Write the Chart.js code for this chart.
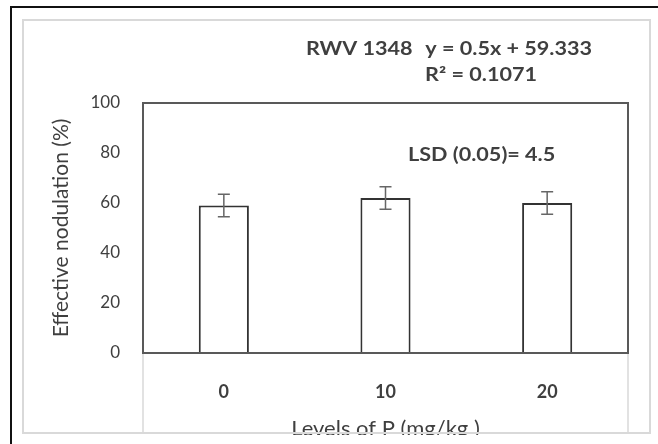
<!DOCTYPE html>
<html>
<head>
<meta charset="utf-8">
<script src="https://cdn.jsdelivr.net/npm/chart.js@4.4.1/dist/chart.umd.min.js"></script>
<style>
  html, body { margin: 0; padding: 0; background: #fff; }
  canvas { display: block; }
</style>
</head>
<body>
<canvas id="myChart" width="658" height="444"></canvas>
<script>
// data
const levels = ['0', '10', '20'];
const nodulation = [59, 62, 60];
const errors = [4.5, 4.5, 4.5];
const yTicks = [0, 20, 40, 60, 80, 100];

const varietyText = 'RWV 1348';
const equationText = 'y = 0.5x + 59.333';
const r2Text = 'R\u00b2 = 0.1071';
const lsdText = 'LSD (0.05)= 4.5';

const textColor = '#3f3f3f';
const fontFamily = 'Lato, "Open Sans", sans-serif';

// frames around the picture and the plot box
const framePlugin = {
    id: 'frames',
    beforeDraw(chart) {
        const ctx = chart.ctx;
        ctx.save();
        ctx.fillStyle = '#fff';
        ctx.fillRect(0, 0, chart.width, chart.height);
        ctx.restore();
    },
    afterDraw(chart) {
        const ctx = chart.ctx;
        const area = chart.chartArea;
        ctx.save();
        // clip the axis title under the bottom edge
        ctx.fillStyle = '#fff';
        ctx.fillRect(13, 435, chart.width, 10);

        // light grey chart frame
        ctx.strokeStyle = '#d9d9d9';
        ctx.lineWidth = 2;
        ctx.strokeRect(23, 20, 627, 413);
        ctx.lineWidth = 1.5;
        ctx.beginPath();
        ctx.moveTo(area.left, area.bottom);
        ctx.lineTo(area.left, 433);
        ctx.moveTo(area.right, area.bottom);
        ctx.lineTo(area.right, 433);
        ctx.stroke();

        // black outer border (top and left)
        ctx.strokeStyle = '#111';
        ctx.lineWidth = 2;
        ctx.beginPath();
        ctx.moveTo(11, chart.height);
        ctx.lineTo(11, 7);
        ctx.lineTo(chart.width, 7);
        ctx.stroke();

        // plot box
        ctx.strokeStyle = '#595959';
        ctx.lineWidth = 2;
        ctx.strokeRect(area.left, area.top, area.right - area.left, area.bottom - area.top);
        ctx.restore();
    }
};

const errorBarPlugin = {
    id: 'errorBars',
    afterDatasetsDraw(chart) {
        const ctx = chart.ctx;
        const yScale = chart.scales.y;
        const meta = chart.getDatasetMeta(0);
        ctx.save();
        ctx.strokeStyle = '#666';
        ctx.lineWidth = 1.5;
        meta.data.forEach((bar, i) => {
            const top = yScale.getPixelForValue(nodulation[i] + errors[i]);
            const bottom = yScale.getPixelForValue(nodulation[i] - errors[i]);
            ctx.beginPath();
            ctx.moveTo(bar.x, top);
            ctx.lineTo(bar.x, bottom);
            ctx.moveTo(bar.x - 6, top);
            ctx.lineTo(bar.x + 6, top);
            ctx.moveTo(bar.x - 6, bottom);
            ctx.lineTo(bar.x + 6, bottom);
            ctx.stroke();
        });
        ctx.restore();
    }
};

// the source picture is stretched sideways, so the notes are too
function wideText(ctx, text, x, y, align) {
    ctx.save();
    ctx.translate(x, y);
    ctx.scale(1.2, 1);
    ctx.textAlign = align || 'left';
    ctx.fillText(text, 0, 0);
    ctx.restore();
}

const notePlugin = {
    id: 'notes',
    afterDraw(chart) {
        const ctx = chart.ctx;
        ctx.save();
        ctx.fillStyle = textColor;
        ctx.textBaseline = 'alphabetic';
        ctx.font = 'bold 18px ' + fontFamily;
        wideText(ctx, varietyText, 306, 55);
        wideText(ctx, equationText, 592, 55, 'right');
        wideText(ctx, r2Text, 537, 81, 'right');
        wideText(ctx, lsdText, 408, 161);
        ctx.restore();
    }
};

const ctx = document.getElementById('myChart').getContext('2d');
const myChart = new Chart(ctx, {
    type: 'bar',
    data: {
        labels: levels,
        datasets: [{
            label: 'Effective nodulation',
            data: nodulation,
            backgroundColor: '#fff',
            borderColor: '#333',
            borderWidth: 2,
            categoryPercentage: 1,
            barPercentage: 0.31
        }]
    },
    options: {
        responsive: false,
        animation: false,
        layout: {
            padding: { left: 0, top: 103, right: 30, bottom: 0 }
        },
        plugins: {
            legend: { display: false },
            tooltip: { enabled: false }
        },
        scales: {
            x: {
                grid: { display: false, drawTicks: false },
                border: { display: false },
                ticks: {
                    color: textColor,
                    padding: 28,
                    font: { family: fontFamily, size: 18, weight: 'bold' }
                },
                title: {
                    display: true,
                    text: 'Levels of P (mg/kg )',
                    color: textColor,
                    padding: { top: 0, bottom: 2 },
                    font: { family: fontFamily, size: 22 }
                },
                afterFit(scale) { scale.height = 91; }
            },
            y: {
                min: 0,
                max: 100,
                grid: { display: false, drawTicks: false },
                border: { display: false },
                afterBuildTicks(axis) {
                    axis.ticks = yTicks.map(v => ({ value: v }));
                },
                ticks: {
                    color: textColor,
                    padding: 23,
                    font: { family: fontFamily, size: 17 }
                },
                title: {
                    display: true,
                    text: 'Effective nodulation (%)',
                    color: textColor,
                    padding: { top: 49, bottom: 0 },
                    font: { family: fontFamily, size: 21 }
                },
                afterFit(scale) { scale.width = 143; }
            }
        }
    },
    plugins: [framePlugin, errorBarPlugin, notePlugin]
});
</script>
</body>
</html>
